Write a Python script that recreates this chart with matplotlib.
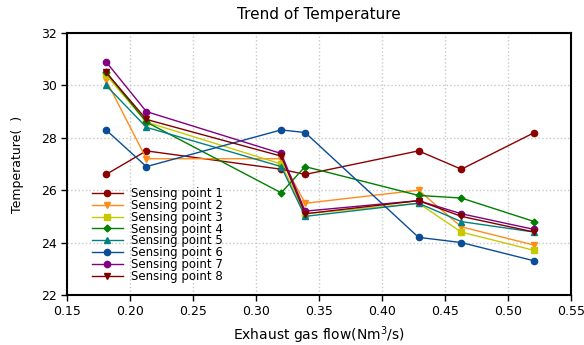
import matplotlib.pyplot as plt

plt.rcParams['font.family'] = ['DejaVu Sans']

# exhaust gas flow (Nm3/s) at each test
flow = [0.181, 0.213, 0.320, 0.339, 0.429, 0.463, 0.521]

sp1 = [26.6, 27.5, 26.8, 26.6, 27.5, 26.8, 28.2]
sp2 = [30.2, 27.2, 27.2, 25.5, 26.0, 24.6, 23.9]
sp3 = [30.4, 28.6, 27.0, 25.1, 25.5, 24.4, 23.7]
sp4 = [30.5, 28.6, 25.9, 26.9, 25.8, 25.7, 24.8]
sp5 = [30.0, 28.4, 26.9, 25.0, 25.5, 24.8, 24.4]
sp6 = [28.3, 26.9, 28.3, 28.2, 24.2, 24.0, 23.3]
sp7 = [30.9, 29.0, 27.4, 25.2, 25.6, 25.1, 24.5]
sp8 = [30.5, 28.7, 27.3, 25.1, 25.6, 25.0, 24.4]

series = [sp1, sp2, sp3, sp4, sp5, sp6, sp7, sp8]
labels = ['Sensing point %d' % i for i in range(1, 9)]
colors = ['#8b0000', '#ff8c1a', '#c8c800', '#008000', '#008080',
          '#0a4c96', '#800080', '#800000']
markers = ['o', 'v', 's', 'D', '^', 'o', 'o', 'v']

fig = plt.figure(figsize=(5.84, 3.45), dpi=100)
ax = fig.add_axes([0.1147, 0.145, 0.863, 0.7594])

for y, lab, c, m in zip(series, labels, colors, markers):
    ms = 3.5 if m == 'D' else 4.5
    ax.plot(flow, y, color=c, marker=m, markersize=ms, linewidth=1.0, label=lab)

ax.set_xlim(0.15, 0.55)
ax.set_ylim(22, 32)
ax.set_xticks([0.15, 0.20, 0.25, 0.30, 0.35, 0.40, 0.45, 0.50, 0.55])
ax.set_yticks([22, 24, 26, 28, 30, 32])
ax.xaxis.set_major_formatter(plt.FormatStrFormatter('%.2f'))
ax.tick_params(labelsize=9, direction='out', length=4, width=1)
ax.grid(True, linestyle=':', color='#c8c8c8', linewidth=1)

for s in ax.spines.values():
    s.set_linewidth(1.5)

ax.set_title('Trend of Temperature', fontsize=11, pad=10)
ax.set_xlabel('Exhaust gas flow(Nm$^3$/s)', fontsize=10, labelpad=4)
ax.set_ylabel('Temperature(  )', fontsize=9, labelpad=12)

ax.legend(loc='lower left', bbox_to_anchor=(0.033, 0.015), frameon=False,
          fontsize=8.5, labelspacing=-0.1, handlelength=2.6,
          handletextpad=0.7, borderaxespad=0.3)

fig.savefig('out.png', dpi=100)
